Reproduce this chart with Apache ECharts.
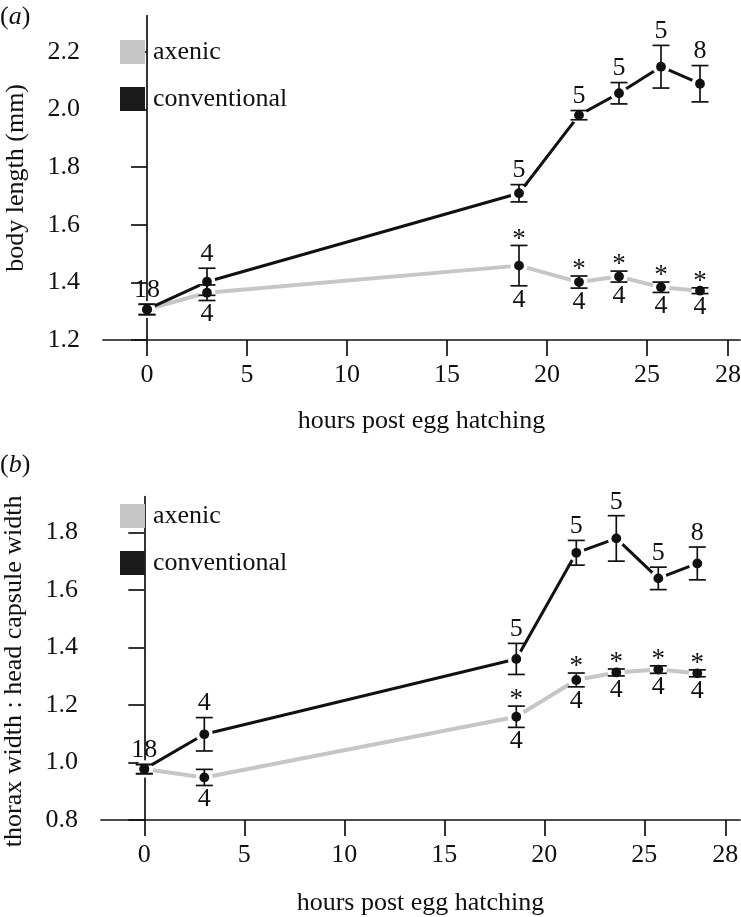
<!DOCTYPE html>
<html><head><meta charset="utf-8">
<script src="https://cdn.jsdelivr.net/npm/echarts@6/dist/echarts.min.js"></script>
<style>html,body{margin:0;padding:0;background:#fff}#c{width:741px;height:917px}</style>
</head><body><div id="c"></div>
<script>
// ---- data ----
const hours = [0, 3, 18.6, 21.6, 23.6, 25.7, 27.65];
const xTickValues = [0, 5, 10, 15, 20, 25, 29.05];
const xTickLabels = ['0', '5', '10', '15', '20', '25', '28'];
const yTicksA = [1.2, 1.4, 1.6, 1.8, 2.0, 2.2];
const yTicksB = [0.8, 1.0, 1.2, 1.4, 1.6, 1.8];

// panel (a): body length (mm)
const convLen    = [1.306, 1.402, 1.709, 1.980, 2.056, 2.148, 2.089];
const convLenErr = [0.018, 0.047, 0.030, 0.016, 0.037, 0.074, 0.063];
const axenLen    = [1.306, 1.364, 1.458, 1.401, 1.420, 1.383, 1.371];
const axenLenErr = [0.018, 0.027, 0.070, 0.021, 0.019, 0.018, 0.010];

// panel (b): thorax width : head capsule width
const convRatio    = [0.977, 1.098, 1.360, 1.729, 1.779, 1.640, 1.692];
const convRatioErr = [0.016, 0.058, 0.054, 0.043, 0.079, 0.039, 0.057];
const axenRatio    = [0.977, 0.948, 1.159, 1.287, 1.313, 1.323, 1.310];
const axenRatioErr = [0.016, 0.028, 0.037, 0.024, 0.012, 0.013, 0.012];

// sample sizes / significance
const convTop  = ['18', '4', '5', '5', '5', '5', '8'];
const axenTop  = ['', '', '*', '*', '*', '*', '*'];
const axenBot  = ['', '4', '4', '4', '4', '4', '4'];
const noLabels = ['', '', '', '', '', '', ''];

// ---- styling ----
const FONT = '"Liberation Serif", "Times New Roman", serif';
const INK = '#111';
const GRAY = '#c6c6c6';

function lineSeries(idx, name, vals, color, width) {
  return {
    type: 'line', name, xAxisIndex: idx, yAxisIndex: idx, z: 2,
    data: hours.map((h, i) => [h, vals[i]]),
    symbol: 'none', silent: true,
    lineStyle: { color, width, cap: 'butt' },
    itemStyle: { color }
  };
}

function haloSeries(idx, name, vals) {
  return {
    type: 'custom', name, xAxisIndex: idx, yAxisIndex: idx, z: 3, silent: true,
    data: hours.map((h, i) => [h, vals[i]]),
    encode: { x: 0, y: 1 },
    renderItem(params, api) {
      const p = api.coord([api.value(0), api.value(1)]);
      return { type: 'circle', shape: { cx: p[0], cy: p[1], r: 8.5 }, style: { fill: '#fff' } };
    }
  };
}

function barSeries(idx, name, vals, errs, tops, bots) {
  return {
    type: 'custom', name, xAxisIndex: idx, yAxisIndex: idx, z: 5, silent: true,
    data: hours.map((h, i) => [h, vals[i], errs[i]]),
    encode: { x: 0, y: 1 },
    renderItem(params, api) {
      const i = params.dataIndex;
      const x = api.value(0), y = api.value(1), e = api.value(2);
      const p = api.coord([x, y]);
      const pt = api.coord([x, y + e]);
      const pb = api.coord([x, y - e]);
      const cw = 8.5;
      const ls = { stroke: INK, lineWidth: 1.7 };
      const ch = [
        { type: 'line', shape: { x1: p[0], y1: pt[1], x2: p[0], y2: pb[1] }, style: ls },
        { type: 'line', shape: { x1: p[0] - cw, y1: pt[1], x2: p[0] + cw, y2: pt[1] }, style: ls },
        { type: 'line', shape: { x1: p[0] - cw, y1: pb[1], x2: p[0] + cw, y2: pb[1] }, style: ls },
        { type: 'circle', shape: { cx: p[0], cy: p[1], r: 4.9 }, style: { fill: INK } }
      ];
      const t = tops[i], b = bots[i];
      if (t) {
        const star = t === '*';
        ch.push({ type: 'text', style: {
          text: t, x: p[0], y: pt[1] - (star ? 6 : 14), align: 'center', verticalAlign: 'middle',
          font: (star ? '27px ' : '26px ') + FONT, fill: INK } });
      }
      if (b) {
        ch.push({ type: 'text', style: {
          text: b, x: p[0], y: pb[1] + 14, align: 'center', verticalAlign: 'middle',
          font: '26px ' + FONT, fill: INK } });
      }
      return { type: 'group', children: ch };
    }
  };
}

function xAxis(idx, min, max) {
  return {
    type: 'value', gridIndex: idx, min, max,
    name: 'hours post egg hatching', nameLocation: 'middle', nameGap: idx === 0 ? 68 : 70,
    nameTextStyle: { fontFamily: FONT, fontSize: 26, color: INK, lineHeight: 26 },
    axisLine: { lineStyle: { color: INK, width: 1.7 } },
    axisTick: { show: true, length: 16, customValues: xTickValues, lineStyle: { color: INK, width: 1.7 } },
    axisLabel: {
      customValues: xTickValues, margin: 22, fontFamily: FONT, fontSize: 26, color: INK, lineHeight: 26,
      formatter: v => {
        const k = xTickValues.findIndex(t => Math.abs(t - v) < 1e-6);
        return k >= 0 ? xTickLabels[k] : '';
      }
    },
    splitLine: { show: false }
  };
}

function yAxis(idx, min, max, ticks, title, pad) {
  return {
    type: 'value', gridIndex: idx, min, max,
    name: title, nameLocation: 'middle', nameGap: 74,
    nameTextStyle: { fontFamily: FONT, fontSize: 26, color: INK, lineHeight: 26, padding: pad },
    axisLine: { show: true, lineStyle: { color: INK, width: 1.7 } },
    axisTick: { show: true, length: 16, customValues: ticks, lineStyle: { color: INK, width: 1.7 } },
    axisLabel: {
      customValues: ticks, margin: 23, fontFamily: FONT, fontSize: 26, color: INK,
      formatter: v => Number(v).toFixed(1)
    },
    splitLine: { show: false }
  };
}

function legend(top) {
  return {
    left: 120, top, padding: 0, orient: 'vertical', icon: 'rect', itemWidth: 25, itemHeight: 24, itemGap: 21,
    selectedMode: false,
    textStyle: { fontFamily: FONT, fontSize: 26, color: INK, lineHeight: 24, padding: [0, 0, 0, 3] },
    data: [
      { name: 'axenic', itemStyle: { color: GRAY, borderWidth: 0 } },
      { name: 'conventional', itemStyle: { color: '#1a1a1a', borderWidth: 0 } }
    ]
  };
}

const chart = echarts.init(document.getElementById('c'), null, { renderer: 'canvas' });
chart.setOption({
  backgroundColor: '#fff',
  animation: false,
  grid: [
    { left: 103, top: 15.7, width: 637, height: 324.3, containLabel: false, outerBoundsMode: 'none' },
    { left: 101, top: 496.7, width: 639, height: 323.3, containLabel: false, outerBoundsMode: 'none' }
  ],
  xAxis: [xAxis(0, -2.2, 29.65), xAxis(1, -2.165, 29.785)],
  yAxis: [
    yAxis(0, 1.2, 2.325, yTicksA, 'body length (mm)', 0),
    yAxis(1, 0.8, 1.924, yTicksB, 'thorax width : head capsule width', [0, 26, 0, 0])
  ],
  legend: [legend(39), legend(503)],
  graphic: [
    { type: 'text', left: 0, top: 4, style: { text: '{n|(}{i|a}{n|)}', rich: {
      n: { fontFamily: FONT, fontSize: 26, fill: INK }, i: { fontFamily: FONT, fontSize: 26, fontStyle: 'italic', fill: INK } } } },
    { type: 'text', left: 0, top: 452, style: { text: '{n|(}{i|b}{n|)}', rich: {
      n: { fontFamily: FONT, fontSize: 26, fill: INK }, i: { fontFamily: FONT, fontSize: 26, fontStyle: 'italic', fill: INK } } } }
  ],
  series: [
    lineSeries(0, 'axenic', axenLen, GRAY, 4),
    lineSeries(0, 'conventional', convLen, INK, 3),
    haloSeries(0, 'axenic', axenLen),
    haloSeries(0, 'conventional', convLen),
    barSeries(0, 'axenic', axenLen, axenLenErr, axenTop, axenBot),
    barSeries(0, 'conventional', convLen, convLenErr, convTop, noLabels),

    lineSeries(1, 'axenic', axenRatio, GRAY, 4),
    lineSeries(1, 'conventional', convRatio, INK, 3),
    haloSeries(1, 'axenic', axenRatio),
    haloSeries(1, 'conventional', convRatio),
    barSeries(1, 'axenic', axenRatio, axenRatioErr, axenTop, axenBot),
    barSeries(1, 'conventional', convRatio, convRatioErr, convTop, noLabels)
  ]
});
</script>
</body></html>
